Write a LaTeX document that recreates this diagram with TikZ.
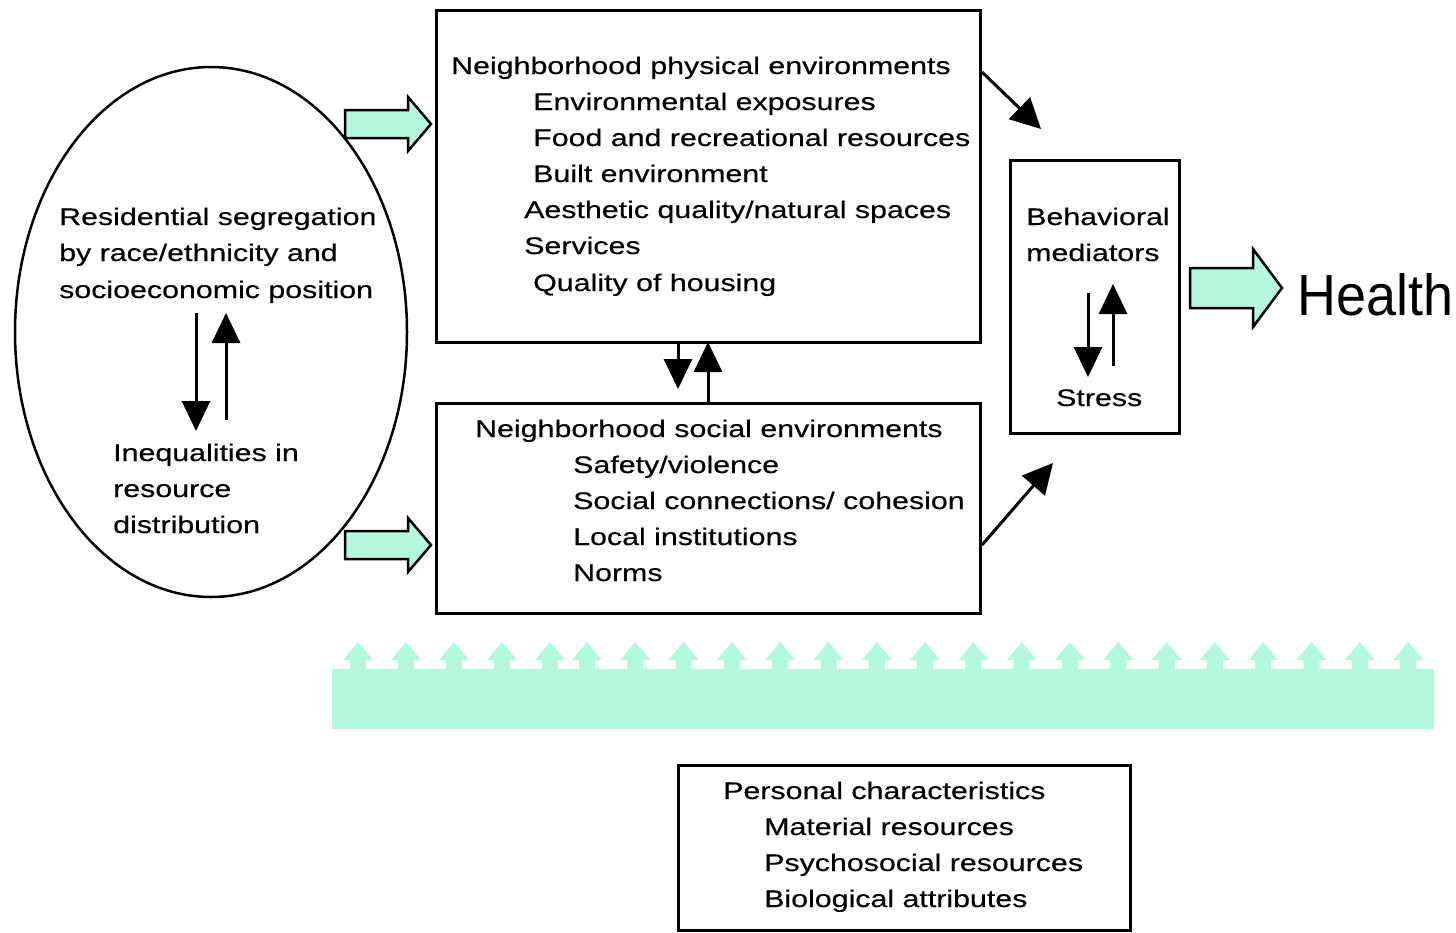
\documentclass[tikz,border=0pt]{standalone}
\usepackage{fontspec}
\setmainfont{Liberation Sans}[FakeStretch=1.265,FakeBold=0.4]
\newfontfamily\healthfont{Liberation Sans}[FakeStretch=0.93]
\usetikzlibrary{arrows.meta,shapes.geometric}
\definecolor{mint}{RGB}{180,248,222}
\tikzset{
  txt/.style={inner sep=0pt, anchor=base west, font=\fontsize{24}{30}\selectfont},
  boxnode/.style={draw=black, line width=3pt, rectangle, inner sep=0pt},
  conn/.style={line width=3pt, -{Triangle[length=30pt,width=28pt]}},
  diag/.style={line width=3pt, -{Triangle[length=30pt,width=30pt]}},
  tealarrow/.style={fill=mint, draw=black, line width=2.5pt, line join=miter},
  bandfill/.style={fill=mint, draw=none}
}
\begin{document}
\begin{tikzpicture}[x=1pt,y=-1pt]
\useasboundingbox (0,0) rectangle (1456,932);

% main shapes
\node[draw=black, line width=2.5pt, ellipse, minimum width=392pt, minimum height=530pt, inner sep=0pt] (seg) at (211,332) {};
\node[boxnode, minimum width=544pt, minimum height=332pt] (phys) at (708,176) {};
\node[boxnode, minimum width=544pt, minimum height=210pt] (soc) at (708,508) {};
\node[boxnode, minimum width=169pt, minimum height=273pt] (beh) at (1094.5,296.5) {};
\node[boxnode, minimum width=452pt, minimum height=165pt] (pers) at (904,847.5) {};

% ellipse text
\node[txt] (t1) at (59,225) {Residential segregation};
\node[txt] (t2) at (59,261) {by race/ethnicity and};
\node[txt] (t3) at (59,298) {socioeconomic position};
\node[txt] (t4) at (113,461) {Inequalities in};
\node[txt] (t5) at (113,497) {resource};
\node[txt] (t6) at (113,533) {distribution};

% physical box text
\node[txt] (p1) at (451,74) {Neighborhood physical environments};
\node[txt] (p2) at (533,110) {Environmental exposures};
\node[txt] (p3) at (533,146) {Food and recreational resources};
\node[txt] (p4) at (533,182) {Built environment};
\node[txt] (p5) at (524,218) {Aesthetic quality/natural spaces};
\node[txt] (p6) at (524,254) {Services};
\node[txt] (p7) at (533,291) {Quality of housing};

% social box text
\node[txt] (s1) at (475,437) {Neighborhood social environments};
\node[txt] (s2) at (573,473) {Safety/violence};
\node[txt] (s3) at (573,509) {Social connections/ cohesion};
\node[txt] (s4) at (573,545) {Local institutions};
\node[txt] (s5) at (573,581) {Norms};

% behavioral box text
\node[txt] (b1) at (1026,225) {Behavioral};
\node[txt] (b2) at (1026,261) {mediators};
\node[txt] (b3) at (1056,406) {Stress};

% personal box text
\node[txt] (c1) at (723,799) {Personal characteristics};
\node[txt] (c2) at (764,835) {Material resources};
\node[txt] (c3) at (764,871) {Psychosocial resources};
\node[txt] (c4) at (764,907) {Biological attributes};

% Health
\node[inner sep=0pt, anchor=base west, font=\healthfont\fontsize{58}{60}\selectfont] (health) at (1297,315) {Health};

% ellipse arrows
\coordinate (ed1) at (196,313);
\coordinate (ed2) at (196,431);
\coordinate (eu1) at (226,420);
\coordinate (eu2) at (226,313);
\draw[conn] (ed1) -- (ed2);
\draw[conn] (eu1) -- (eu2);

% arrows between boxes
\draw[conn] (phys.south -| 678,0) -- (678,389);
\draw[conn] (soc.north -| 708,0) -- (708,342);

% behavioral arrows
\coordinate (bd1) at (1088,293);
\coordinate (bd2) at (1088,377);
\coordinate (bu1) at (1113,366);
\coordinate (bu2) at (1113,284);
\draw[conn] (bd1) -- (bd2);
\draw[conn] (bu1) -- (bu2);

% diagonal arrows
\coordinate (dg1) at (982,72);
\coordinate (dg2) at (1041,129);
\coordinate (dg3) at (982,545);
\coordinate (dg4) at (1053,463);
\draw[diag] (dg1) -- (dg2);
\draw[diag] (dg3) -- (dg4);

% teal block arrows
\draw[tealarrow] (345,110) -- (408,110) -- (408,97) -- (431,124) -- (408,151) -- (408,138) -- (345,138) -- cycle;
\draw[tealarrow] (345,531) -- (408,531) -- (408,518) -- (431,545) -- (408,572) -- (408,559) -- (345,559) -- cycle;
\draw[tealarrow] (1190,268) -- (1253,268) -- (1253,249) -- (1282,288) -- (1253,327) -- (1253,308) -- (1190,308) -- cycle;

% band with small upward arrows
\fill[bandfill] (332,669) rectangle (1434,729);
\foreach \ax in {358,406,454,502,550}{
  \fill[bandfill] (\ax-8,670) -- (\ax-8,660) -- (\ax-15,660) -- (\ax,642) -- (\ax+15,660) -- (\ax+8,660) -- (\ax+8,670) -- cycle;
}
\foreach \k in {0,...,17}{
  \pgfmathsetmacro{\ax}{587+48.3*\k}
  \fill[bandfill] (\ax-8,670) -- (\ax-8,660) -- (\ax-15,660) -- (\ax,642) -- (\ax+15,660) -- (\ax+8,660) -- (\ax+8,670) -- cycle;
}
\end{tikzpicture}
\end{document}
